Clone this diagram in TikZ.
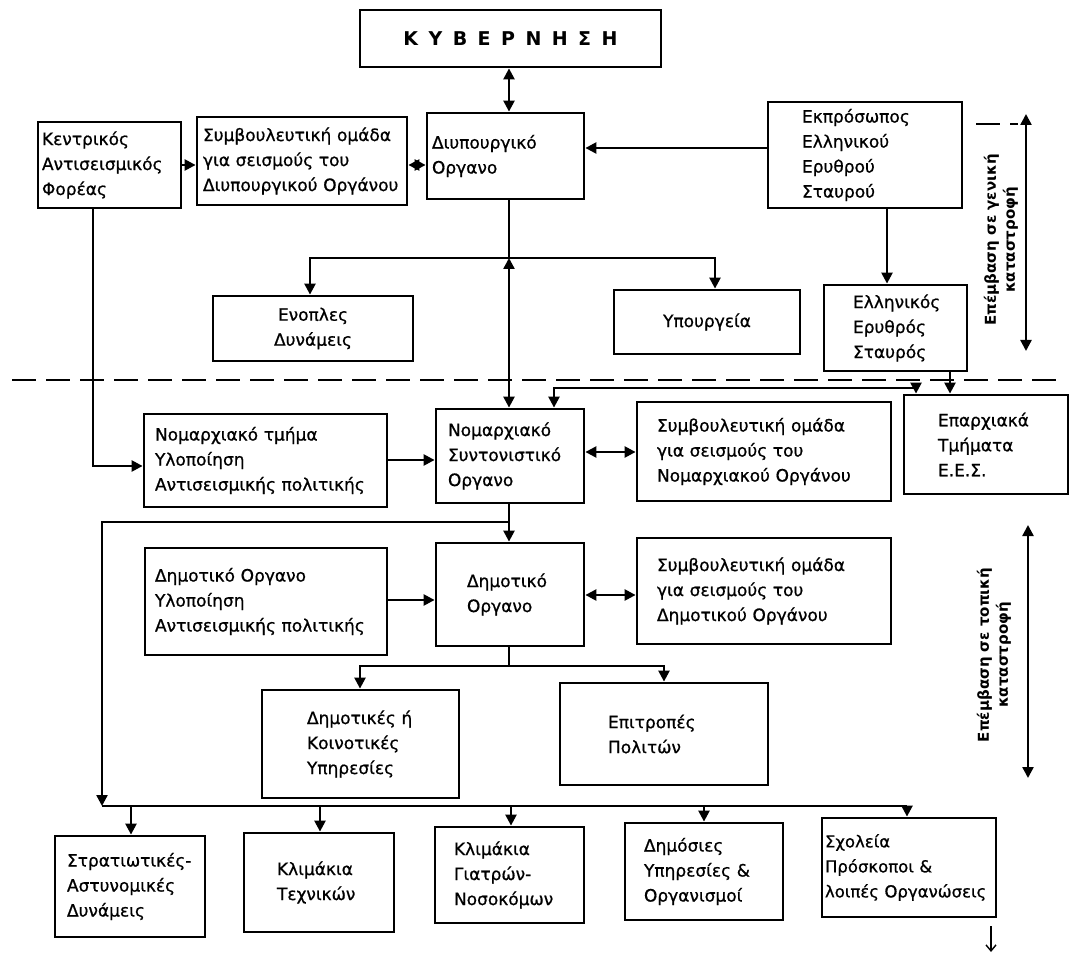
\documentclass[tikz,border=0pt]{standalone}
\usepackage{fontspec}
\setmainfont{DejaVu Sans}
\newfontfamily\boxfont[FakeBold=0.8]{DejaVu Sans}
\newfontfamily\spacedfont[LetterSpace=55]{DejaVu Sans}
\usetikzlibrary{arrows.meta}
\begin{document}
\begin{tikzpicture}[x=1pt,y=-1pt,
  bx/.style={draw, line width=2.8pt, rectangle, inner ysep=0pt, align=left, font=\boxfont\fontsize{17}{25}\selectfont},
  sz/.style n args={4}{minimum width=#1pt, minimum height=#2pt, inner xsep=#3pt, text width=#4pt},
  cbx/.style={draw, line width=2.8pt, rectangle, inner ysep=0pt, align=center, font=\boxfont\fontsize{17}{25}\selectfont},
  conn/.style={line width=2.4pt},
  tip/.style={conn, -{Triangle[length=11pt,width=11pt]}},
  dtip/.style={conn, {Triangle[length=11pt,width=11pt]}-{Triangle[length=11pt,width=11pt]}},
  sidelbl/.style={rotate=90, align=center, font=\fontsize{15}{19}\selectfont\bfseries},
  sep/.style={line width=2.4pt, dash pattern=on 24pt off 10pt},
]
\useasboundingbox (0,0) rectangle (1074,957);

% ---- nodes ----
\node[cbx, minimum width=301pt, minimum height=57pt] (kyv) at (510.5,38.5) {\fontsize{19}{22}\spacedfont\bfseries ΚΥΒΕΡΝΗΣΗ};
\node[bx, sz={143}{86}{4}{135}] (kent) at (109.5,165) {Κεντρικός\\\mbox{Αντισεισμικός}\\Φορέας};
\node[bx, sz={210}{88}{6}{198}] (symv1) at (302,161) {\mbox{Συμβουλευτική ομάδα}\\\mbox{για σεισμούς του}\\\mbox{Διυπουργικού Οργάνου}};
\node[bx, sz={157}{86}{5}{147}] (diyp) at (505.5,156) {Διυπουργικό\\Οργανο};
\node[bx, sz={194}{106}{34}{126}] (ekpr) at (865,155) {Εκπρόσωπος\\Ελληνικού\\Ερυθρού\\Σταυρού};
\node[cbx, minimum width=200pt, minimum height=65pt] (enop) at (313,328.5) {Ενοπλες\\Δυνάμεις};
\node[cbx, minimum width=186pt, minimum height=64pt] (ypourg) at (707,322) {Υπουργεία};
\node[bx, sz={143}{86}{29}{85}] (ees) at (895.5,328) {\mbox{Ελληνικός}\\Ερυθρός\\Σταυρός};
\node[bx, sz={243}{93}{11}{221}] (nomt) at (265.5,460.5) {\mbox{Νομαρχιακό τμήμα}\\Υλοποίηση\\\mbox{Αντισεισμικής πολιτικής}};
\node[bx, sz={148}{94}{12}{124}] (nomsyn) at (510,456) {\mbox{Νομαρχιακό}\\\mbox{Συντονιστικό}\\Οργανο};
\node[bx, sz={254}{99}{20}{214}] (symv2) at (764,451.5) {\mbox{Συμβουλευτική ομάδα}\\\mbox{για σεισμούς του}\\\mbox{Νομαρχιακού Οργάνου}};
\node[bx, sz={164}{99}{34}{96}] (epar) at (986,444.5) {\mbox{Επαρχιακά}\\Τμήματα\\Ε.Ε.Σ.};
\node[bx, sz={242}{107}{10}{222}] (dimyl) at (266,601.5) {\mbox{Δημοτικό Οργανο}\\Υλοποίηση\\\mbox{Αντισεισμικής πολιτικής}};
\node[bx, sz={148}{103}{31}{86}] (dimorg) at (510,594.5) {Δημοτικό\\Οργανο};
\node[bx, sz={254}{106}{20}{214}] (symv3) at (764,591) {\mbox{Συμβουλευτική ομάδα}\\\mbox{για σεισμούς του}\\\mbox{Δημοτικού Οργάνου}};
\node[bx, sz={197}{108}{45}{107}] (dimk) at (360.5,744) {\mbox{Δημοτικές ή}\\\mbox{Κοινοτικές}\\Υπηρεσίες};
\node[bx, sz={208}{102}{48}{112}] (epit) at (664,734) {Επιτροπές\\Πολιτών};
\node[bx, sz={150}{101}{12}{126}] (strat) at (130,886.5) {\mbox{Στρατιωτικές-}\\\mbox{Αστυνομικές}\\Δυνάμεις};
\node[bx, sz={150}{99}{33}{84}] (klt) at (319,882.5) {Κλιμάκια\\Τεχνικών};
\node[bx, sz={149}{96}{19}{111}] (klg) at (509.5,875) {Κλιμάκια\\\mbox{Γιατρών-}\\\mbox{Νοσοκόμων}};
\node[bx, sz={158}{97}{19}{120}] (dimos) at (704,871.5) {Δημόσιες\\\mbox{Υπηρεσίες \&}\\\mbox{Οργανισμοί}};
\node[bx, sz={174}{99}{3}{168}, font=\boxfont\fontsize{16.5}{25}\selectfont] (sxol) at (909,867.5) {Σχολεία\\\mbox{Πρόσκοποι \&}\\\mbox{λοιπές Οργανώσεις}};

\node[sidelbl] (lblg) at (1001,240) {Επέμβαση σε γενική\\καταστροφή};
\node[sidelbl] (lblt) at (994,655) {Επέμβαση σε τοπική\\καταστροφή};

% ---- helper coordinates ----
\coordinate (vx) at (509,0);
\coordinate (c165) at (0,165);
\coordinate (c148) at (0,148);
\coordinate (x887) at (887,0);
\coordinate (j1) at (509,258);
\coordinate (x310) at (310,0);
\coordinate (x715) at (715,0);
\coordinate (x93) at (93,0);
\coordinate (c466) at (0,466);
\coordinate (c460) at (0,460);
\coordinate (c452) at (0,452);
\coordinate (x950) at (950,0);
\coordinate (x554) at (554,0);
\coordinate (k1) at (554,388);
\coordinate (k2) at (916,388);
\coordinate (x916) at (916,0);
\coordinate (l1) at (509,522);
\coordinate (l2) at (102,522);
\coordinate (b0) at (102,806);
\coordinate (b5) at (907,806);
\coordinate (c600) at (0,600);
\coordinate (c595) at (0,595);
\coordinate (j2) at (509,666);
\coordinate (x360) at (360,0);
\coordinate (x664) at (664,0);
\coordinate (x131) at (131,0);
\coordinate (x320) at (320,0);
\coordinate (x511) at (511,0);
\coordinate (x704) at (704,0);
\coordinate (x907) at (907,0);
\coordinate (g1) at (1026,114);
\coordinate (g2) at (1026,351);
\coordinate (t1) at (1028,525);
\coordinate (t2) at (1028,778);
\coordinate (d1) at (976,124);
\coordinate (d2) at (1018,124);
\coordinate (h1) at (12,380);
\coordinate (h2) at (1064,380);
\coordinate (s1) at (991,926);
\coordinate (s2) at (991,952);

% ---- separators ----
\draw[sep] (h1) -- (h2);
\draw[sep] (d1) -- (d2);

% ---- connectors ----
\draw[dtip] (kyv.south -| vx) -- (diyp.north -| vx);
\draw[tip] (kent.east |- c165) -- (symv1.west |- c165);
\draw[dtip] (symv1.east |- c165) -- (diyp.west |- c165);
\draw[tip] (ekpr.west |- c148) -- (diyp.east |- c148);
\draw[tip] (ekpr.south -| x887) -- (ees.north -| x887);
\draw[conn] (diyp.south -| vx) -- (j1);
\draw[dtip] (j1) -- (nomsyn.north -| vx);
\draw[tip] (j1) -| (enop.north -| x310);
\draw[tip] (j1) -| (ypourg.north -| x715);
\draw[tip] (kent.south -| x93) |- (nomt.west |- c466);
\draw[tip] (nomt.east |- c460) -- (nomsyn.west |- c460);
\draw[dtip] (nomsyn.east |- c452) -- (symv2.west |- c452);
\draw[tip] (ees.south -| x950) -- (epar.north -| x950);
\draw[dtip] (nomsyn.north -| x554) -- (k1) -- (k2) -- (epar.north -| x916);
\draw[tip] (nomsyn.south -| vx) -- (dimorg.north -| vx);
\draw[tip] (l1) -- (l2) -- (b0);
\draw[conn] (b0) -- (b5);
\draw[tip] (dimyl.east |- c600) -- (dimorg.west |- c600);
\draw[dtip] (dimorg.east |- c595) -- (symv3.west |- c595);
\draw[conn] (dimorg.south -| vx) -- (j2);
\draw[tip] (j2) -| (dimk.north -| x360);
\draw[tip] (j2) -| (epit.north -| x664);
\draw[tip] (b0 -| x131) -- (strat.north -| x131);
\draw[tip] (b0 -| x320) -- (klt.north -| x320);
\draw[tip] (b0 -| x511) -- (klg.north -| x511);
\draw[tip] (b0 -| x704) -- (dimos.north -| x704);
\draw[tip] (b0 -| x907) -- (sxol.north -| x907);
\draw[dtip] (g1) -- (g2);
\draw[dtip] (t1) -- (t2);
\draw[line width=1.4pt, -{Straight Barb[length=6pt,width=10pt]}] (s1) -- (s2);
\end{tikzpicture}
\end{document}
